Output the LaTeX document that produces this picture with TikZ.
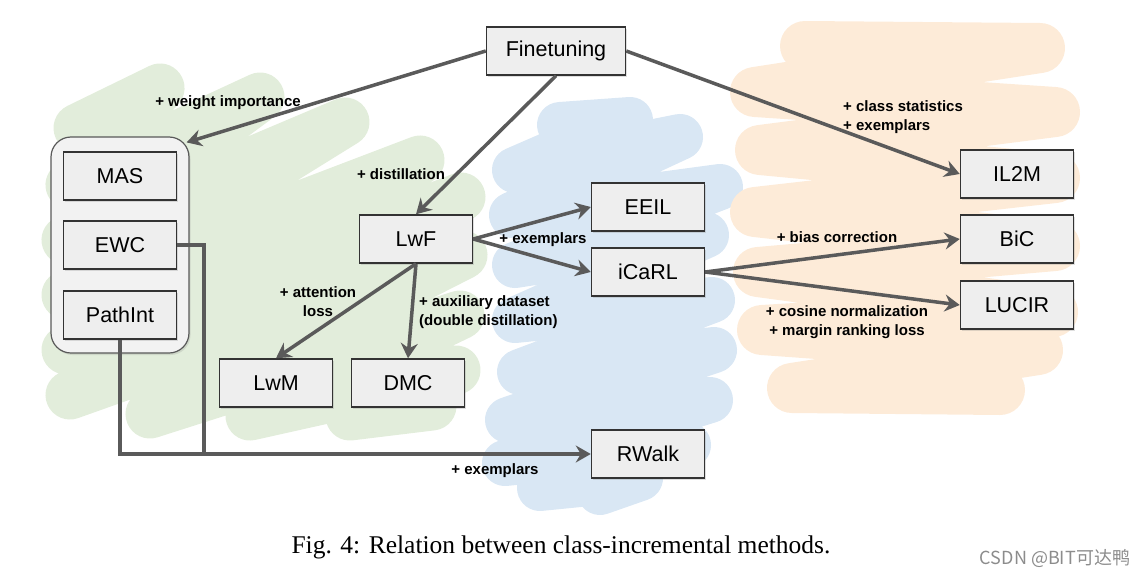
\documentclass[tikz,border=0pt]{standalone}
\usepackage{fontspec}
\setmainfont{Liberation Serif}
\setsansfont{Liberation Sans}
\newfontfamily\cjkfont{Noto Sans CJK SC}
\usetikzlibrary{arrows.meta,shadows}

\definecolor{edgegray}{HTML}{5A5A5A}
\definecolor{boxfill}{HTML}{EEEEEE}
\definecolor{boxline}{HTML}{333333}
\definecolor{blobgreen}{HTML}{E2EDDB}
\definecolor{blobblue}{HTML}{D9E7F4}
\definecolor{bloborange}{HTML}{FDEBD8}

\tikzset{
  method/.style={draw=boxline, line width=1.5pt, fill=boxfill,
    minimum width=113pt, minimum height=48pt,
    font=\sffamily\fontsize{21.5}{24}\selectfont,
    drop shadow={shadow xshift=1.5pt, shadow yshift=-2pt, opacity=0.25}},
  groupbox/.style={draw=black!65, line width=1.2pt, fill=black!5,
    rounded corners=20pt,
    drop shadow={shadow xshift=1.5pt, shadow yshift=-2pt, opacity=0.2}},
  link/.style={draw=edgegray, line width=3.5pt,
    -{Stealth[length=15pt,width=17pt,inset=5pt]}},
  plain/.style={draw=edgegray, line width=3.5pt},
  note/.style={font=\sffamily\bfseries\fontsize{15}{19}\selectfont,
    inner sep=0pt, align=center},
  scribble/.style={line cap=round, line join=round},
}

\begin{document}
\begin{tikzpicture}[x=1pt,y=-1pt]
  \useasboundingbox (0,0) rectangle (1147,578);
  % Background scribbles
  \draw[scribble, blobgreen, line width=49pt] (78,128) -- (160,88) -- (70,185)
    -- (260,97) -- (66,240) -- (345,122) -- (66,295) -- (420,160) -- (66,350)
    -- (461,197) -- (70,395) -- (463,255) -- (150,414) -- (460,315) -- (250,416)
    -- (456,370) -- (350,416) -- (432,406);
  \draw[scribble, blobblue, line width=46pt] (560,125) -- (630,120) -- (515,170)
    -- (680,137) -- (512,215) -- (720,187) -- (515,265) -- (706,235) -- (515,320)
    -- (712,300) -- (520,372) -- (714,350) -- (508,420) -- (710,400) -- (505,463)
    -- (688,445) -- (540,488) -- (640,478) -- (600,492);
  \draw[scribble, bloborange, line width=50pt] (805,46) -- (1040,48) -- (755,92)
    -- (1055,112) -- (760,150) -- (1055,178) -- (755,212) -- (1055,246)
    -- (758,272) -- (1053,312) -- (762,330) -- (1038,350) -- (792,388)
    -- (1000,390);

  % Group of regularization methods
  \node[groupbox, minimum width=138pt, minimum height=216pt] (group) at (120,245) {};
  \node[method] (mas) at (120,176) {MAS};
  \node[method] (ewc) at (120,245) {EWC};
  \node[method] (pathint) at (120,315) {PathInt};

  % Methods
  \node[method, minimum width=139pt] (fine) at (556,51) {Finetuning};
  \node[method] (lwf) at (416,239) {LwF};
  \node[method] (eeil) at (648,207) {EEIL};
  \node[method] (icarl) at (648,272) {iCaRL};
  \node[method] (lwm) at (276,383) {LwM};
  \node[method] (dmc) at (408,383) {DMC};
  \node[method] (rwalk) at (648,454) {RWalk};
  \node[method] (il2m) at (1017,174) {IL2M};
  \node[method] (bic) at (1017,239) {BiC};
  \node[method] (lucir) at (1017,305) {LUCIR};

  % Connectors
  \coordinate (grouptip) at ([xshift=-3pt,yshift=-6pt]group.north east);
  \coordinate (ewcturn) at (204,454);
  \draw[link] (fine.west) -- (grouptip);
  \draw[link] (fine.south) -- (lwf.north);
  \draw[link] (fine.east) -- (il2m.west);
  \draw[link] (lwf.east) -- (eeil.west);
  \draw[link] (lwf.east) -- (icarl.west);
  \draw[link] (icarl.east) -- (bic.west);
  \draw[link] (icarl.east) -- (lucir.west);
  \draw[link] (lwf.south) -- (lwm.north);
  \draw[link] (lwf.south) -- (dmc.north);
  \draw[plain] (ewc.east) -| (ewcturn);
  \draw[link] (pathint.south) |- (rwalk.west);

  % Labels
  \node[note] (wimp) at (228,103) {+ weight importance};
  \node[note] (dist) at (401,174) {+ distillation};
  \node[note, align=left, anchor=west] (clsstat) at (843,117) {+ class statistics\\+ exemplars};
  \node[note] (exemp) at (543,240) {+ exemplars};
  \node[note] (bias) at (837,237) {+ bias correction};
  \node[note] (cosine) at (847,322) {+ cosine normalization\\+ margin ranking loss};
  \node[note] (attn) at (318,302) {+ attention\\loss};
  \node[note, align=left, anchor=west] (aux) at (419,312) {+ auxiliary dataset\\(double distillation)};
  \node[note] (exempb) at (495,471) {+ exemplars};

  % Caption and mark
  \node[font=\rmfamily\fontsize{25.5}{30}\selectfont] (caption) at (561,547)
    {Fig. 4: Relation between class-incremental methods.};
  \node[font=\cjkfont\fontsize{18}{20}\selectfont, text=black!45] (mark) at (1055,558)
    {CSDN @BIT可达鸭};
\end{tikzpicture}
\end{document}
